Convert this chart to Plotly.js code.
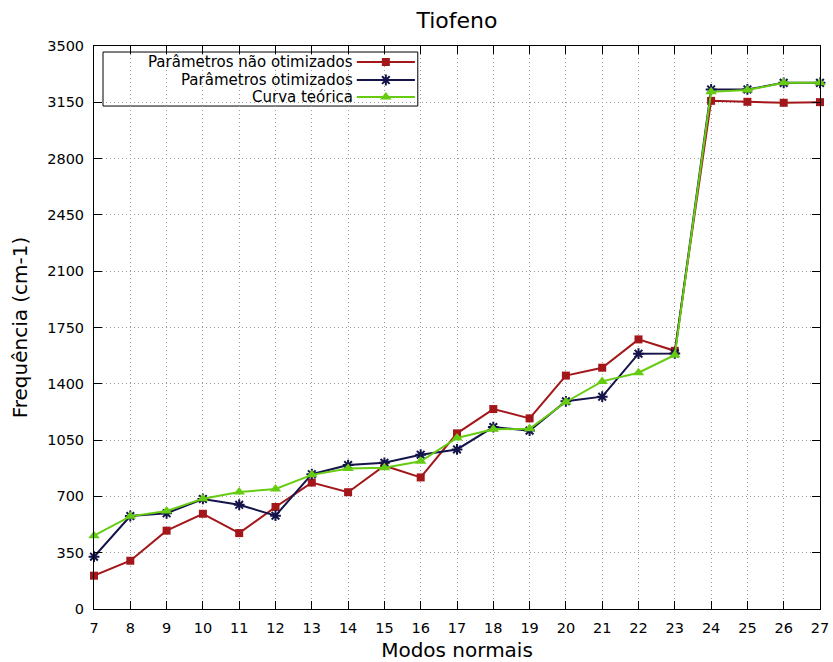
<!DOCTYPE html>
<html><head><meta charset="utf-8">
<script src="https://cdn.plot.ly/plotly-3.0.1.min.js"></script>
<style>body{margin:0;background:#fff}#c{width:833px;height:662px}</style>
</head><body><div id="c"></div>
<script>
const modes = [7,8,9,10,11,12,13,14,15,16,17,18,19,20,21,22,23,24,25,26,27];
const naoOtimizados = [207,300,487,592,472,634,786,726,891,818,1092,1243,1185,1451,1500,1676,1605,3159,3153,3147,3151];
const otimizados    = [325,578,595,684,648,580,838,895,909,959,992,1131,1109,1291,1320,1587,1589,3230,3230,3271,3271];
const teorica       = [456,576,609,686,727,746,834,874,878,918,1063,1117,1120,1287,1415,1469,1579,3215,3226,3271,3271];
const yTicks = [0,350,700,1050,1400,1750,2100,2450,2800,3150,3500];
const names = ['Parâmetros não otimizados','Parâmetros otimizados','Curva teórica'];
const colors = ['#a3171b','#14144a','#66cc11'];
const symbols = ['square','asterisk-open','triangle-up'];
const sizes = [8,9,10];
const series = [naoOtimizados, otimizados, teorica];

const font = 'DejaVu Sans, sans-serif';
const traces = series.map((s,i)=>({
  x: modes, y: s, type:'scatter', mode:'lines+markers', name:names[i],
  line:{color:colors[i], width:2},
  marker:{symbol:symbols[i], size:sizes[i], color:colors[i], line:{color:colors[i], width: i===1?2:0}},
  showlegend:false, cliponaxis:false
}));
// legend samples on overlay axes (0..1 over plot area)
const rowY = [0.9716,0.9396,0.9094];
series.forEach((s,i)=>{
  traces.push({x:[0.362,0.442], y:[rowY[i],rowY[i]], xaxis:'x2', yaxis:'y2', type:'scatter', mode:'lines',
    line:{color:colors[i], width:2}, showlegend:false, hoverinfo:'skip'});
  traces.push({x:[0.402], y:[rowY[i]], xaxis:'x2', yaxis:'y2', type:'scatter', mode:'markers',
    marker:{symbol:symbols[i], size:sizes[i], color:colors[i], line:{color:colors[i], width: i===1?2:0}}, showlegend:false, hoverinfo:'skip'});
});
const annotations = names.map((n,i)=>({xref:'paper', yref:'paper', x:0.3595, y:rowY[i], xanchor:'right', yanchor:'middle',
  text:n, showarrow:false, font:{family:font, size:15, color:'#000'}}));

const axBase = {showline:true, linecolor:'#000', linewidth:1, mirror:'ticks', ticks:'inside', ticklen:8, tickcolor:'#000',
  showgrid:true, gridcolor:'#9a9a9a', griddash:'1px,3px', gridwidth:1, zeroline:false, ticklabelstandoff:6,
  tickfont:{family:font, size:14.5}};
const layout = {
  width:833, height:662, margin:{l:94, r:13, t:46, b:53},
  paper_bgcolor:'#fff', plot_bgcolor:'#fff',
  font:{family:font, size:14, color:'#000'},
  title:{text:'Tiofeno', x:0.5486, xanchor:'center', y:0.969, yanchor:'middle', font:{family:font, size:22, color:'#000'}},
  xaxis:Object.assign({}, axBase, {range:[7,27], tickmode:'array', tickvals:modes, ticktext:modes.map(String),
    title:{text:'Modos normais', font:{family:font, size:20}, standoff:12}}),
  yaxis:Object.assign({}, axBase, {range:[0,3500], tickmode:'array', tickvals:yTicks, ticktext:yTicks.map(String),
    title:{text:'Frequência (cm-1)', font:{family:font, size:20}, standoff:14}}),
  xaxis2:{range:[0,1], overlaying:'x', visible:false, fixedrange:true},
  yaxis2:{range:[0,1], overlaying:'y', visible:false, fixedrange:true},
  shapes:[{type:'rect', xref:'paper', yref:'paper', x0:0.0124, x1:0.446, y0:0.8934, y1:0.9893,
    fillcolor:'#fff', line:{color:'#000', width:1}, layer:'between'}],
  annotations: annotations,
  showlegend:false
};
Plotly.newPlot('c', traces, layout, {staticPlot:true});
</script></body></html>
